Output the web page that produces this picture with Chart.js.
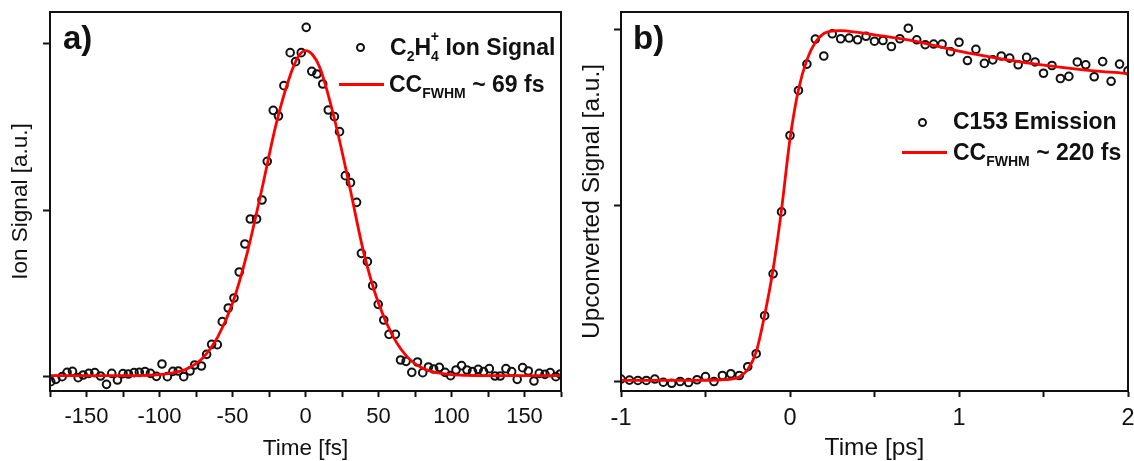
<!DOCTYPE html>
<html>
<head>
<meta charset="utf-8">
<script src="https://cdn.jsdelivr.net/npm/chart.js@4.4.1/dist/chart.umd.min.js"></script>
<style>
html, body { margin: 0; padding: 0; background: #fff; }
body { width: 1134px; height: 461px; position: relative; overflow: hidden; font-family: "Liberation Sans", Arial, sans-serif; }
canvas { position: absolute; top: 0; }
#chartA { left: 0; }
#chartB { left: 570px; }
.lbl { position: absolute; font-weight: bold; font-size: 33px; line-height: 33px; color: #111; }
.leg { position: absolute; font-weight: bold; font-size: 23px; line-height: 23px; color: #111; white-space: nowrap; }
.leg sub, .leg sup { font-size: 14px; line-height: 0; }
.leg sub { vertical-align: -6px; }
.leg sup { vertical-align: 14px; }
.dot { position: absolute; width: 5px; height: 5px; border: 2px solid #111; border-radius: 50%; }
.seg { position: absolute; height: 3px; background: #f00; }
</style>
</head>
<body>
<canvas id="chartA" width="570" height="461"></canvas>
<canvas id="chartB" width="564" height="461"></canvas>

<div class="lbl" style="left:63px; top:21px">a)</div>
<div class="lbl" style="left:633px; top:21px">b)</div>

<div class="dot" style="left:356px; top:43px"></div>
<div class="leg" style="left:390px; top:36px">C<sub>2</sub>H<sub>4</sub><sup style="margin-left:-8px">+</sup> Ion Signal</div>
<div class="seg" style="left:339px; top:83px; width:45px"></div>
<div class="leg" style="left:389px; top:73px">CC<sub>FWHM</sub> ~ 69 fs</div>

<div class="dot" style="left:918px; top:118px"></div>
<div class="leg" style="left:953px; top:110px">C153 Emission</div>
<div class="seg" style="left:902px; top:151px; width:45px"></div>
<div class="leg" style="left:953px; top:141px">CC<sub>FWHM</sub> ~ 220 fs</div>

<script>
// panel a: C2H4+ ion signal vs delay (fs)
const timeA = [-174.5, -171, -166.7, -163.3, -159.6, -155.7, -152.3, -148.4, -144.3, -140.4,
    -136.3, -132.7, -128.8, -125, -121.3, -117.4, -113.8, -109.9, -106.2, -102.1,
    -98.3, -94.6, -90.8, -87.1, -83.4, -79.1, -75.9, -71.3, -67.7, -64.3,
    -60.4, -57, -52.9, -49, -45.4, -41.5, -37.8, -33.5, -29.8, -26.2,
    -22.1, -18.5, -14.8, -10.5, -6.8, -2.9, 0.5, 4.3, 7.8, 11.8,
    15.6, 19.8, 23.3, 27.3, 30.8, 35, 38.3, 42.4, 46, 49.8,
    53.6, 57.2, 61.6, 65.1, 68.9, 72.8, 76.7, 80.3, 84.2, 87.8,
    91.7, 95.6, 99.4, 103.1, 106.9, 110.6, 114.4, 118.3, 122, 125.9,
    129.8, 133.4, 137.3, 141.2, 145, 148.7, 152.6, 156.5, 160.1, 164,
    167.6, 171.5, 174.5];
const ionSignal = [-0.015, -0.008, 0.000, 0.013, 0.016, -0.003, 0.005, 0.010, 0.012, 0.002,
    -0.023, 0.010, -0.010, 0.009, 0.008, 0.012, 0.013, 0.015, 0.010, 0.001,
    0.038, 0.000, 0.016, 0.017, 0.000, 0.017, 0.035, 0.032, 0.067, 0.097,
    0.096, 0.165, 0.206, 0.236, 0.314, 0.398, 0.473, 0.473, 0.530, 0.646,
    0.799, 0.782, 0.873, 0.972, 0.945, 0.972, 1.048, 0.916, 0.908, 0.878,
    0.800, 0.780, 0.735, 0.603, 0.582, 0.523, 0.370, 0.345, 0.273, 0.217,
    0.170, 0.127, 0.127, 0.050, 0.046, 0.013, 0.044, 0.012, 0.029, 0.023,
    0.028, 0.013, 0.003, 0.020, 0.033, 0.020, 0.015, 0.022, 0.015, 0.024,
    0.002, 0.002, 0.024, 0.015, -0.008, 0.027, 0.017, -0.013, 0.010, 0.007,
    0.012, 0.000, 0.008];
const fitTimeA = [-175, -150, -125, -110, -100, -90, -80, -70, -60, -50, -40, -30, -20, -10, -5,
    0, 5, 10, 20, 30, 40, 50, 60, 70, 80, 90, 100, 110, 125, 150, 175];
const fitA = [0.003, 0.003, 0.003, 0.004, 0.006, 0.012, 0.026, 0.058, 0.12, 0.22, 0.37, 0.56, 0.76, 0.91, 0.96,
    0.978, 0.965, 0.925, 0.77, 0.575, 0.37, 0.22, 0.12, 0.058, 0.026, 0.012, 0.006, 0.004, 0.003, 0.003, 0.003];

// panel b: C153 emission vs delay (ps)
const timeB = [-1.00, -0.95, -0.90, -0.85, -0.80, -0.75, -0.70, -0.65, -0.60, -0.55,
    -0.50, -0.45, -0.40, -0.35, -0.30, -0.25, -0.20, -0.15, -0.10, -0.05,
    0.00, 0.05, 0.10, 0.15, 0.20, 0.25, 0.30, 0.35, 0.40, 0.45,
    0.50, 0.55, 0.60, 0.65, 0.70, 0.75, 0.80, 0.85, 0.90, 0.95,
    1.00, 1.05, 1.10, 1.15, 1.20, 1.25, 1.30, 1.35, 1.40, 1.45,
    1.50, 1.55, 1.60, 1.65, 1.70, 1.75, 1.80, 1.85, 1.90, 1.95, 2.00];
const emission = [0.008, 0.005, 0.004, 0.004, 0.008, -0.001, -0.004, 0.001, -0.002, 0.006,
    0.015, 0.001, 0.018, 0.023, 0.018, 0.043, 0.080, 0.188, 0.307, 0.483,
    0.700, 0.828, 0.903, 0.974, 0.926, 0.989, 0.975, 0.977, 0.972, 0.982,
    0.968, 0.970, 0.953, 0.975, 1.005, 0.972, 0.958, 0.960, 0.960, 0.938,
    0.965, 0.913, 0.945, 0.905, 0.915, 0.926, 0.920, 0.901, 0.922, 0.909,
    0.877, 0.899, 0.862, 0.868, 0.909, 0.901, 0.867, 0.910, 0.854, 0.903, 0.884];
const fitTimeB = [-1.0, -0.6, -0.4, -0.35, -0.3, -0.25, -0.2, -0.15, -0.1, -0.05, 0.0, 0.05, 0.1, 0.15, 0.2,
    0.25, 0.3, 0.4, 0.5, 0.75, 1.0, 1.25, 1.5, 1.75, 2.0];
const fitB = [0.004, 0.004, 0.006, 0.008, 0.014, 0.035, 0.085, 0.19, 0.32, 0.49, 0.69, 0.83, 0.915, 0.965, 0.99,
    0.997, 0.998, 0.993, 0.986, 0.967, 0.94, 0.918, 0.9, 0.886, 0.876];

const FONT = "'Liberation Sans', Arial, sans-serif";

const xy = (xs, ys) => xs.map((x, i) => ({ x: x, y: ys[i] }));

const frame = {
    id: 'frame',
    afterDraw(chart) {
        const a = chart.chartArea;
        const c = chart.ctx;
        c.save();
        c.strokeStyle = '#111';
        c.lineWidth = 2;
        c.strokeRect(a.left, a.top, a.right - a.left, a.bottom - a.top);
        c.restore();
    }
};

function makePanel(id, o) {
    return new Chart(document.getElementById(id), {
        type: 'scatter',
        data: {
            datasets: [
                {
                    label: 'fit',
                    data: xy(o.fitX, o.fitY),
                    showLine: true,
                    borderColor: '#f00',
                    borderWidth: 2.8,
                    pointRadius: 0,
                    cubicInterpolationMode: 'monotone'
                },
                {
                    label: 'data',
                    data: xy(o.x, o.y),
                    pointStyle: 'circle',
                    pointRadius: 3.8,
                    pointBorderWidth: 2,
                    pointBorderColor: '#111',
                    pointBackgroundColor: 'rgba(0,0,0,0)'
                }
            ]
        },
        options: {
            responsive: false,
            devicePixelRatio: 1,
            animation: false,
            layout: { padding: { top: 12, right: o.padRight, bottom: 0, left: 0 } },
            plugins: { legend: { display: false }, tooltip: { enabled: false } },
            scales: {
                x: {
                    type: 'linear',
                    min: o.xMin,
                    max: o.xMax,
                    afterFit: s => { s.height = 70; s.paddingLeft = 0; s.paddingRight = 0; },
                    border: { display: true, color: '#111', width: 2 },
                    grid: { drawOnChartArea: false, drawTicks: true, tickLength: 6, tickWidth: 2, tickColor: '#111' },
                    ticks: {
                        stepSize: o.xStep,
                        autoSkip: false,
                        maxRotation: 0,
                        padding: 7,
                        color: '#111',
                        font: { family: FONT, size: o.tickSize },
                        callback: o.xLabel
                    },
                    title: {
                        display: true,
                        text: o.xTitle,
                        color: '#111',
                        padding: { top: 0, bottom: 1 },
                        font: { family: FONT, size: o.titleSize, lineHeight: 1 }
                    }
                },
                y: {
                    min: o.yMin,
                    max: o.yMax,
                    afterFit: s => { s.width = o.yWidth; },
                    border: { display: true, color: '#111', width: 2 },
                    grid: { drawOnChartArea: false, drawTicks: true, tickLength: 7, tickWidth: 2, tickColor: '#111' },
                    ticks: { display: false, stepSize: 0.5, includeBounds: false },
                    title: {
                        display: true,
                        text: o.yTitle,
                        color: '#111',
                        padding: { top: o.yTitlePad, bottom: 0 },
                        font: { family: FONT, size: o.titleSize, lineHeight: 1 }
                    }
                }
            }
        },
        plugins: [frame]
    });
}

makePanel('chartA', {
    x: timeA, y: ionSignal, fitX: fitTimeA, fitY: fitA,
    xMin: -175, xMax: 175, xStep: 25,
    xLabel: v => (v % 50 === 0 ? String(v) : ''),
    yMin: -0.043, yMax: 1.094,
    yWidth: 50, padRight: 9, yTitlePad: 10,
    tickSize: 22, titleSize: 22.5,
    xTitle: 'Time [fs]', yTitle: 'Ion Signal [a.u.]'
});

makePanel('chartB', {
    x: timeB, y: emission, fitX: fitTimeB, fitY: fitB,
    xMin: -1, xMax: 2, xStep: 0.5,
    xLabel: v => (Number.isInteger(v) ? String(v) : ''),
    yMin: -0.026, yMax: 1.051,
    yWidth: 51, padRight: 4, yTitlePad: 10,
    tickSize: 23.5, titleSize: 24.5,
    xTitle: 'Time [ps]', yTitle: 'Upconverted Signal [a.u.]'
});
</script>
</body>
</html>
